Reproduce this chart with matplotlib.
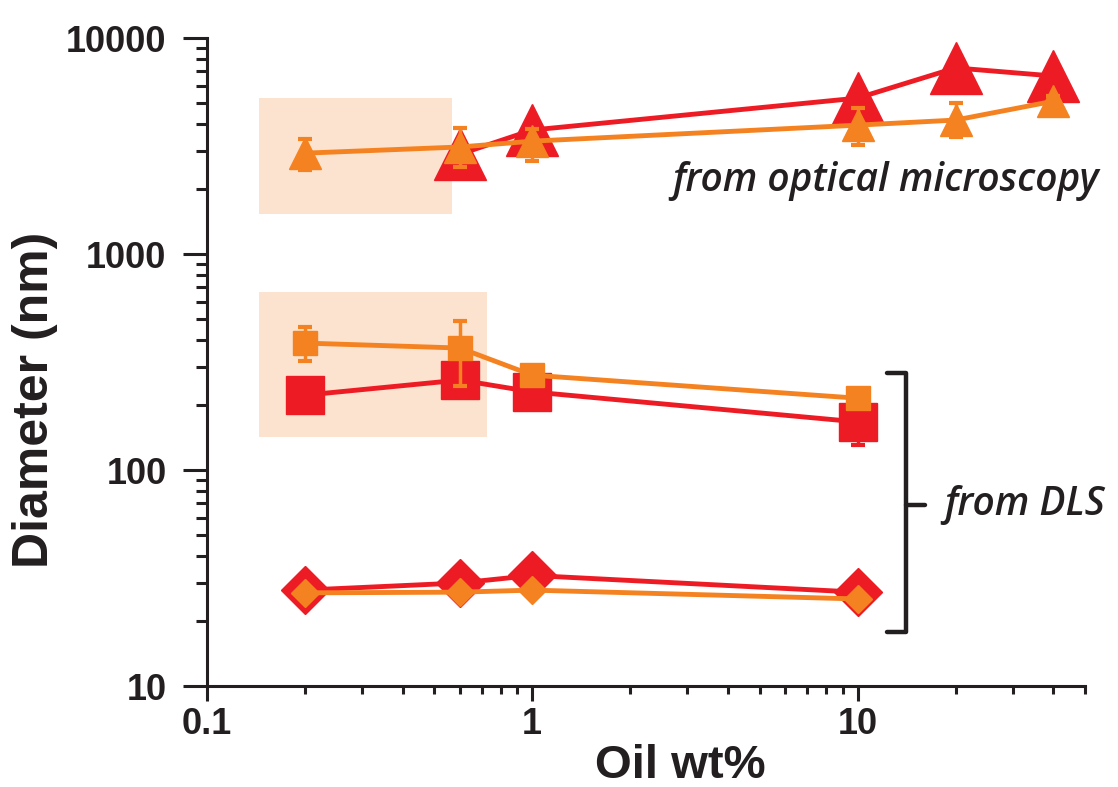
import matplotlib
matplotlib.use("Agg")
import matplotlib.pyplot as plt, numpy as np
from matplotlib.patches import Rectangle

RED = "#ED1C24"
ORANGE = "#F58220"
SHADE = "#FCE3CF"

# optical microscopy (triangles)
x_tri_red = [0.6, 1, 10, 20, 40]
y_tri_red = [2900, 3750, 5270, 7270, 6670]
x_tri_org = [0.2, 0.6, 1, 10, 20, 40]
y_tri_org = [2930, 3130, 3330, 3950, 4170, 5100]
lo_tri_org = [2450, 2530, 2700, 3200, 3480, 4800]
hi_tri_org = [3400, 3830, 3800, 4740, 5000, 5400]

# DLS (squares)
x_sq_red = [0.2, 0.6, 1, 10]
y_sq_red = [222, 261, 230, 167]
lo_sq_red = [210, 250, 220, 131]
hi_sq_red = [235, 272, 240, 200]
x_sq_org = [0.2, 0.6, 1, 10]
y_sq_org = [387, 367, 275, 215]
lo_sq_org = [320, 245, 260, 205]
hi_sq_org = [459, 490, 290, 225]

# DLS (diamonds)
x_dia_red = [0.2, 0.6, 1, 10]
y_dia_red = [27.8, 30, 32.5, 27.2]
x_dia_org = [0.2, 0.6, 1, 10]
y_dia_org = [27, 27.2, 27.8, 25.3]

# shaded regions: (x0, x1, y0, y1)
shade_boxes = [(0.145, 0.567, 1530, 5270), (0.145, 0.727, 142, 667)]

ytick_vals = [10, 100, 1000, 10000]
ytick_labels = ["10", "100", "1000", "10000"]
xtick_vals = [0.1, 1, 10]
xtick_labels = ["0.1", "1", "10"]

plt.rcParams['font.family'] = ['Liberation Sans', 'DejaVu Sans']

fig = plt.figure(figsize=(11.18, 7.87), dpi=100)
ax = fig.add_axes([0.185, 0.1283, 0.7855, 0.8234])
ax.set_xscale("log")
ax.set_yscale("log")
ax.set_xlim(0.1, 50)
ax.set_ylim(10, 10000)

for x0, x1, y0, y1 in shade_boxes:
    ax.add_patch(Rectangle((x0, y0), x1 - x0, y1 - y0, facecolor=SHADE, edgecolor="none", zorder=0))

def err(y, lo, hi):
    y = np.array(y)
    return [y - np.array(lo), np.array(hi) - y]

lw = 3.5
# red series
ax.plot(x_dia_red, y_dia_red, color=RED, lw=lw, marker="D", ms=24, zorder=2)
ax.errorbar(x_sq_red, y_sq_red, yerr=err(y_sq_red, lo_sq_red, hi_sq_red), color=RED, lw=lw,
            marker="s", ms=27, elinewidth=2.5, capsize=5, capthick=3, zorder=2)
ax.plot(x_tri_red, y_tri_red, color=RED, lw=lw, marker="^", ms=37, zorder=2)

# orange series
ax.plot(x_dia_org, y_dia_org, color=ORANGE, lw=lw, marker="D", ms=14, zorder=3)
ax.errorbar(x_sq_org, y_sq_org, yerr=err(y_sq_org, lo_sq_org, hi_sq_org), color=ORANGE, lw=lw,
            marker="s", ms=17, elinewidth=2.5, capsize=5, capthick=3, zorder=3)
ax.errorbar(x_tri_org, y_tri_org, yerr=err(y_tri_org, lo_tri_org, hi_tri_org), color=ORANGE, lw=lw,
            marker="^", ms=23, elinewidth=2.5, capsize=5, capthick=3, zorder=3)

# axes styling
for s in ["top", "right"]:
    ax.spines[s].set_visible(False)
for s in ["left", "bottom"]:
    ax.spines[s].set_linewidth(2.2)
    ax.spines[s].set_color("#231F20")

ax.yaxis.set_major_locator(matplotlib.ticker.FixedLocator(ytick_vals))
ax.yaxis.set_major_formatter(matplotlib.ticker.FixedFormatter(ytick_labels))
ax.xaxis.set_major_locator(matplotlib.ticker.FixedLocator(xtick_vals))
ax.xaxis.set_major_formatter(matplotlib.ticker.FixedFormatter(xtick_labels))
ax.yaxis.set_minor_locator(matplotlib.ticker.LogLocator(subs=np.arange(2, 10)))
ax.xaxis.set_minor_locator(matplotlib.ticker.LogLocator(subs=np.arange(2, 10)))
ax.xaxis.set_minor_formatter(matplotlib.ticker.NullFormatter())
ax.yaxis.set_minor_formatter(matplotlib.ticker.NullFormatter())
ax.tick_params(axis="y", which="major", length=17, width=2.2, pad=12, labelsize=26, color="#231F20")
ax.tick_params(axis="y", which="minor", length=8, width=2.2, color="#231F20")
ax.tick_params(axis="x", which="major", length=11, width=2.2, pad=4, labelsize=26, color="#231F20")
ax.tick_params(axis="x", which="minor", length=6, width=2.2, color="#231F20")
for t in ax.get_xticklabels() + ax.get_yticklabels():
    t.set_fontweight("bold")
    t.set_color("#231F20")

fig.text(0.031, 1 - 400 / 787, "Diameter (nm)", rotation=90, ha="center", va="center",
         fontsize=36, fontweight="bold", color="#231F20")
fig.text(680 / 1118, 1 - 766 / 787, "Oil wt%", ha="center", va="center",
         fontsize=34, fontweight="bold", color="#231F20")

# annotations
ax.text(0.773, 0.78, "from optical microscopy", transform=ax.transAxes, ha="center", va="center",
        fontsize=28, fontstyle="italic", fontweight="semibold", family=["Open Sans", "DejaVu Sans"],
        color="#231F20", clip_on=False)
ax.text(0.84, 0.279, "from DLS", transform=ax.transAxes, ha="left", va="center",
        fontsize=28, fontstyle="italic", fontweight="semibold", family=["Open Sans", "DejaVu Sans"],
        color="#231F20", clip_on=False)

bx = [0.7745, 0.796, 0.796, 0.7745]
by = [0.483, 0.483, 0.0833, 0.0833]
ax.plot(bx, by, transform=ax.transAxes, color="#231F20", lw=3.2, clip_on=False,
        solid_joinstyle="round", solid_capstyle="round")
ax.plot([0.796, 0.818], [0.2793, 0.2793], transform=ax.transAxes, color="#231F20", lw=3.2,
        clip_on=False, solid_capstyle="round")

fig.savefig("out.png", dpi=100)
